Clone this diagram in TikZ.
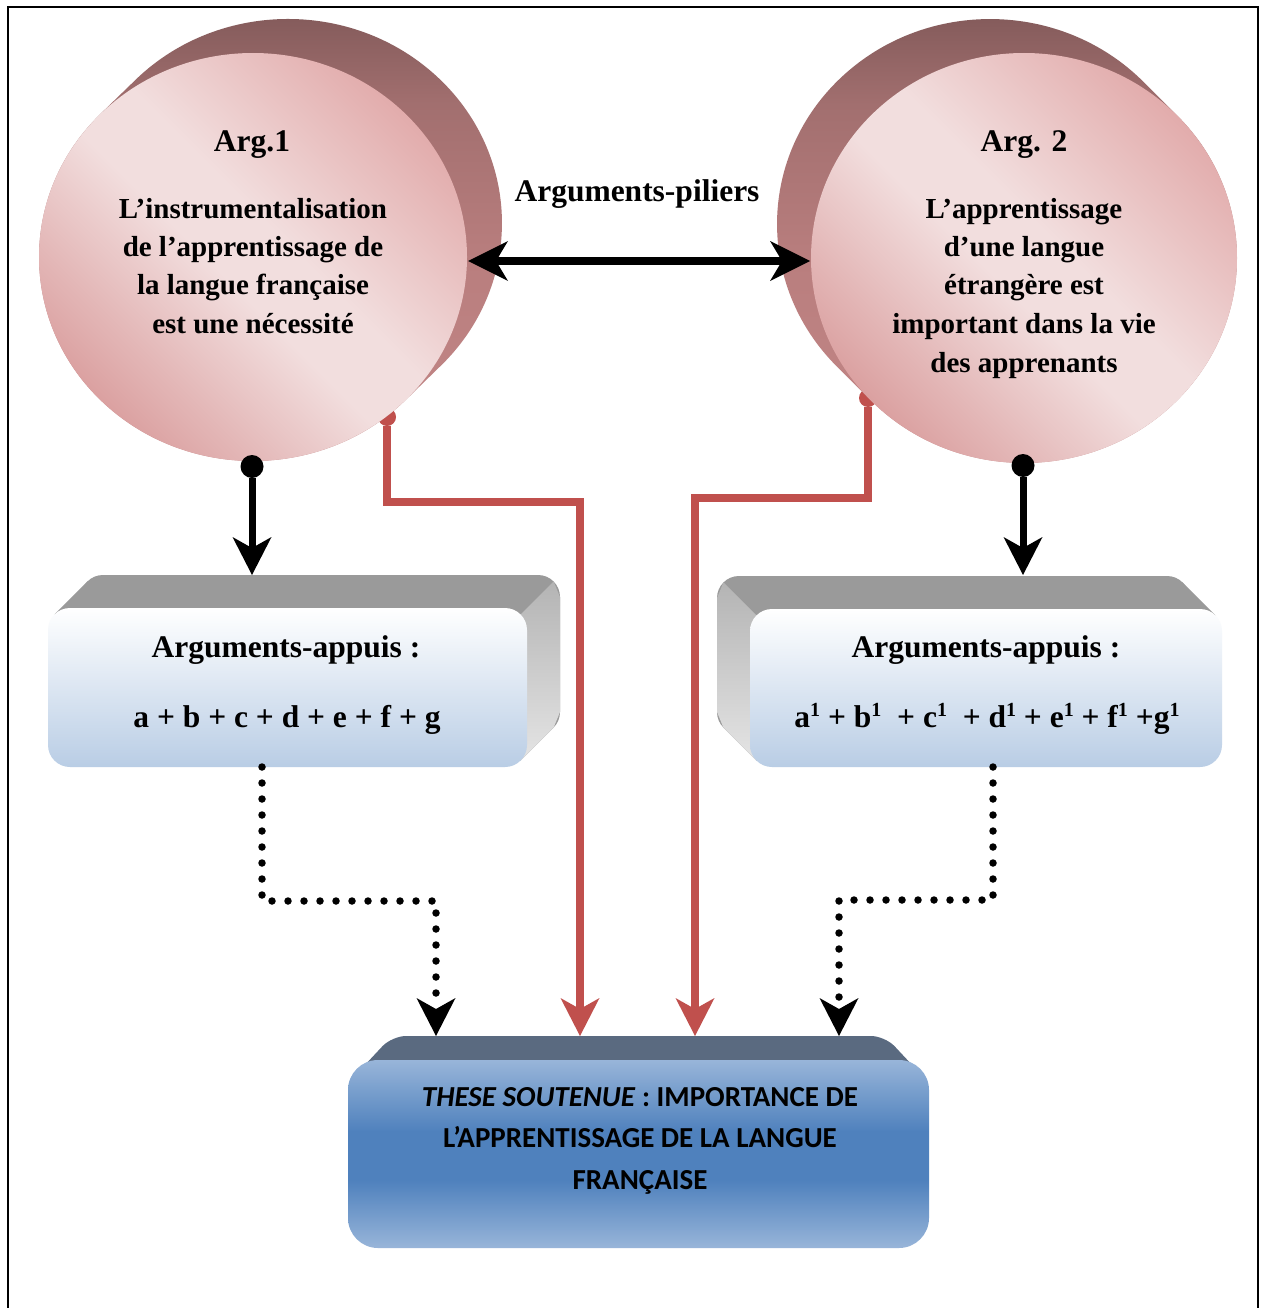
\documentclass[tikz,border=0pt]{standalone}
\usepackage{fontspec}
\setmainfont{Liberation Serif}
\newfontfamily\calib{Carlito}
\usetikzlibrary{arrows.meta}
\definecolor{pkL}{HTML}{F2DEDE}
\definecolor{pkD}{HTML}{DBA1A1}
\definecolor{pkM}{HTML}{E2ACAC}
\definecolor{brD}{HTML}{7E5757}
\definecolor{brM}{HTML}{A26F6F}
\definecolor{brN}{HTML}{B97E7E}
\definecolor{brL}{HTML}{C48888}
\definecolor{redl}{HTML}{C0504D}
\definecolor{gtop}{HTML}{9A9A9A}
\definecolor{gsideA}{HTML}{B4B4B4}
\definecolor{gsideB}{HTML}{E4E4E4}
\definecolor{blL}{HTML}{B9CDE5}
\definecolor{bxL}{HTML}{98B5D9}
\definecolor{bxD}{HTML}{4F81BD}
\definecolor{bxTop}{HTML}{5A6A80}
\pgfdeclareverticalshading{pinkball}{100bp}{color(0bp)=(pkD); color(25bp)=(pkD); color(46bp)=(pkL); color(54bp)=(pkL); color(75bp)=(pkM); color(100bp)=(pkM)}
\pgfdeclareverticalshading{bluebar}{100bp}{color(0bp)=(bxL); color(25bp)=(bxL); color(43bp)=(bxD); color(56bp)=(bxD); color(75bp)=(bxL); color(100bp)=(bxL)}
\pgfdeclareverticalshading{brownback}{100bp}{color(0bp)=(brL); color(25bp)=(brL); color(48bp)=(brN); color(64bp)=(brM); color(75bp)=(brD); color(100bp)=(brD)}
\newcommand\supone{\raisebox{11pt}{\fontsize{20}{20}\selectfont 1}}
\tikzset{
  redline/.style={line width=7.5pt, draw=redl, line join=miter},
  blkline/.style={line width=7pt, draw=black},
  dotline/.style={line width=7.5pt, draw=black, line cap=round, dash pattern=on 0pt off 16pt},
  serifA/.style={font=\bfseries\fontsize{29}{38.5}\selectfont, inner sep=0pt},
  serifB/.style={font=\bfseries\fontsize{31.5}{38}\selectfont, inner sep=0pt},
  calibT/.style={font=\calib\bfseries\fontsize{29}{41.5}\selectfont, inner sep=0pt},
  bigS/.tip={Stealth[length=38pt,width=39pt,inset=11pt,line width=0pt]},
  dblS/.tip={Stealth[length=40pt,width=40pt,inset=12pt,line width=0pt]},
  blkdot/.tip={Circle[length=23pt,line width=0pt]},
  reddot/.tip={Circle[length=18pt,line width=0pt]},
}
\begin{document}
\begin{tikzpicture}[x=1pt,y=-1pt]
\useasboundingbox (0,0) rectangle (1262,1308);
\fill[white] (0,0) rectangle (1262,1308);
% frame
\draw[line width=1.3pt] (8,1330) -- (8,7) -- (1258,7) -- (1258,1330);

% named anchor points
\coordinate (c1w) at (468,261);
\coordinate (c2e) at (810,261);
\coordinate (c1s) at (252,455);
\coordinate (c2s) at (1023,454);
\coordinate (bx1n) at (252,575);
\coordinate (bx2n) at (1023,575);
\coordinate (r1s) at (387,408);
\coordinate (r2s) at (868,389);
\coordinate (bx1s) at (262,767);
\coordinate (bx2s) at (993,767);
\coordinate (th0) at (436,1036);
\coordinate (th1) at (580,1036);
\coordinate (th2) at (695,1036);
\coordinate (th3) at (839,1036);

% red connectors (behind circles)
\draw[redline, reddot-bigS] (r1s) |- (580,502) -- (th1);
\draw[redline, reddot-bigS] (r2s) |- (695,498) -- (th2);

% left circle
\shade[shading=brownback] (98,116.3) -- (133,82.3)
  arc[start angle=223.6, end angle=403.6, x radius=214, y radius=204] -- (408,397.7)
  arc[start angle=43.6, end angle=223.6, x radius=214, y radius=204] -- cycle;
\shade[shading=pinkball, shading angle=-45] (253,257) ellipse [x radius=214, y radius=204];
% right circle
\shade[shading=brownback] (1177.5,115.9) -- (1143.5,81.9)
  arc[start angle=316.1, end angle=136.1, x radius=213, y radius=205] -- (870.5,400.1)
  arc[start angle=136.1, end angle=-43.9, x radius=213, y radius=205] -- cycle;
\shade[shading=pinkball, shading angle=-45] (1024,258) ellipse [x radius=213, y radius=205];

% circle texts
\node[serifB, anchor=base] (a1t) at (252,152) {Arg.1};
\node[serifA, anchor=base] (a1b) at (253,218) {\begin{tabular}[t]{@{}c@{}}L’instrumentalisation\\de l’apprentissage de\\la langue française\\est une nécessité\end{tabular}};
\node[serifB, anchor=base] (a2t) at (1024,152) {Arg. 2};
\node[serifA, anchor=base] (a2b) at (1024,218) {\begin{tabular}[t]{@{}c@{}}L’apprentissage\\d’une langue\\étrangère est\\important dans la vie\\des apprenants\end{tabular}};
\node[serifB, anchor=base] (pil) at (637,201) {Arguments-piliers};

% left box
\fill[gtop, rounded corners=22pt] (81,575) rectangle (560,734);
\fill[gtop] (54.4,614.4) -- (87.4,581.4) -- (553.6,727.6) -- (520.6,760.6) -- cycle;
\shade[top color=gsideA, bottom color=gsideB] (520.6,614.4) -- (553.6,581.4) -- (560,597) -- (560,712) -- (553.6,727.6) -- (520.6,760.6) -- (527,745) -- (527,630) -- cycle;
\shade[rounded corners=22pt, top color=white, bottom color=blL] (48,608) rectangle (527,767);
% right box
\fill[gtop, rounded corners=22pt] (717,576) rectangle (1189,734);
\fill[gtop] (1215.6,615.4) -- (1182.6,582.4) -- (723.4,727.6) -- (756.4,760.6) -- cycle;
\shade[top color=gsideA, bottom color=gsideB] (756.4,615.4) -- (723.4,582.4) -- (717,598) -- (717,712) -- (723.4,727.6) -- (756.4,760.6) -- (750,745) -- (750,631) -- cycle;
\shade[rounded corners=22pt, top color=white, bottom color=blL] (750,609) rectangle (1222,767);

\node[serifB, anchor=base] (ap1) at (286,657) {Arguments-appuis :};
\node[serifB, anchor=base] (f1) at (287,727) {a + b + c + d + e + f + g};
\node[serifB, anchor=base] (ap2) at (986,657) {Arguments-appuis :};
\node[serifB, anchor=base] (f2) at (987,727) {a\supone{} + b\supone{}\ \ + c\supone{}\ \ + d\supone{} + e\supone{} + f\supone{} +g\supone{}};

% bottom box
\fill[bxTop, rounded corners=14pt] (349,1082) -- (392,1036) -- (885,1036) -- (928,1082) -- cycle;
\shade[rounded corners=30pt, shading=bluebar] (348,1060) rectangle (929,1248);
\node[calibT, anchor=base] (th) at (640,1106) {\begin{tabular}[t]{@{}c@{}}\textit{THESE SOUTENUE} : IMPORTANCE DE\\L’APPRENTISSAGE DE LA LANGUE\\FRANÇAISE\end{tabular}};

% black connectors
\draw[line width=8pt, dblS-dblS] (c1w) -- (c2e);
\draw[blkline, blkdot-bigS] (c1s) -- (bx1n);
\draw[blkline, blkdot-bigS] (c2s) -- (bx2n);
\draw[dotline, -bigS] (bx1s) |- (436,901) -- (th0);
\draw[dotline, -bigS] (bx2s) |- (839,900) -- (th3);
\end{tikzpicture}
\end{document}
